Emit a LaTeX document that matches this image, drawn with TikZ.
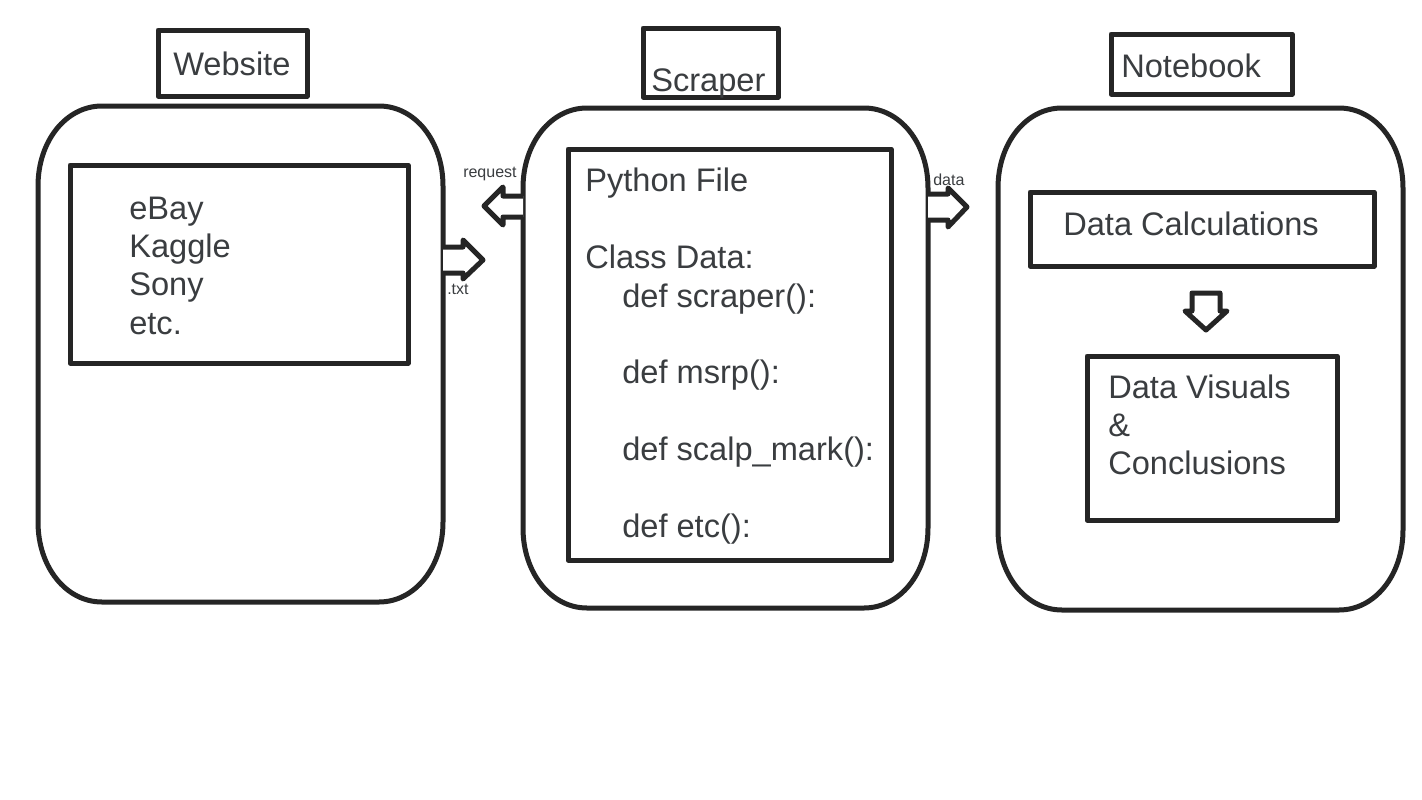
\documentclass[tikz,border=0pt]{standalone}
\usepackage{fontspec}
\setmainfont{Liberation Sans}
\definecolor{linec}{HTML}{252525}
\definecolor{textc}{HTML}{3A3D40}
\tikzset{
  outline/.style={draw=linec, line width=3.75pt, line join=round},
  rect/.style={draw=linec, line width=3.75pt, line join=round},
  blockarrow/.style={draw=linec, line width=3.75pt, line join=round, fill=white},
  bigtext/.style={text=textc, font=\fontsize{24.45}{28.8}\selectfont, inner sep=0pt, anchor=base west},
  smalltext/.style={text=textc, font=\fontsize{12}{14}\selectfont, inner sep=0pt, anchor=base west},
}
\newcommand\rbox[4]{%
  \draw[outline] (#1+64,#2) -- (#3-64,#2) .. controls (#3-28,#2) and (#3,#2+35) .. (#3,#2+80)
    -- (#3,#4-80) .. controls (#3,#4-35) and (#3-28,#4) .. (#3-64,#4)
    -- (#1+64,#4) .. controls (#1+28,#4) and (#1,#4-35) .. (#1,#4-80)
    -- (#1,#2+80) .. controls (#1,#2+35) and (#1+28,#2) .. (#1+64,#2) -- cycle;}
\begin{document}
\begin{tikzpicture}[x=0.75pt,y=-0.75pt]
\fill[white] (0,0) rectangle (1422,800);
\useasboundingbox (0,0) rectangle (1422,800);

% big rounded containers
\rbox{38}{106}{443}{602}
\rbox{523}{108}{928}{608}
\rbox{998}{108}{1403}{610}

% title boxes
\draw[rect] (158,30) rectangle (307,96);
\node[bigtext] (twebsite) at (173,75) {Website};
\draw[rect] (643,28) rectangle (778,97);
\node[bigtext] (tscraper) at (651,91) {Scraper};
\draw[rect] (1111,34) rectangle (1292,94);
\node[bigtext] (tnotebook) at (1121,77) {Notebook};

% website inner box
\draw[rect] (70,165) rectangle (408,363);
\node[bigtext] (s1) at (129,219) {eBay};
\node[bigtext] (s2) at (129,257.4) {Kaggle};
\node[bigtext] (s3) at (129,295.8) {Sony};
\node[bigtext] (s4) at (129,334.2) {etc.};

% python inner box
\draw[rect] (568,149) rectangle (891,560);
\node[bigtext] (p1) at (585,191) {Python File};
\node[bigtext] (p2) at (585,268) {Class Data:};
\node[bigtext] (p3) at (622,307) {def scraper():};
\node[bigtext] (p4) at (622,383.5) {def msrp():};
\node[bigtext] (p5) at (622,460) {def scalp\_mark():};
\node[bigtext] (p6) at (622,537) {def etc():};

% notebook inner boxes
\draw[rect] (1030,192) rectangle (1374,266);
\node[bigtext] (calc) at (1063,235) {Data Calculations};
\draw[rect] (1087,356) rectangle (1337,520);
\node[bigtext] (v1) at (1108,398) {Data Visuals};
\node[bigtext] (v2) at (1108,436.4) {\&};
\node[bigtext] (v3) at (1108,474.8) {Conclusions};

% block arrows
\draw[blockarrow] (443,247) -- (463,247) -- (463,240) -- (483,260) -- (463,279) -- (463,273) -- (443,273);
\node[smalltext] (ltxt) at (447,294) {.txt};
\draw[blockarrow] (523,196) -- (503,196) -- (503,187) -- (484,206) -- (503,225) -- (503,217) -- (523,217);
\node[smalltext] (lreq) at (463,177) {request};
\draw[blockarrow] (928,194) -- (948,194) -- (948,188) -- (967,207) -- (948,227) -- (948,220) -- (928,220);
\node[smalltext] (ldata) at (933,185) {data};
\draw[blockarrow] (1192,311) -- (1192,293) -- (1220,293) -- (1220,311) -- (1227,311) -- (1206,330) -- (1185,311) -- cycle;
\end{tikzpicture}
\end{document}
